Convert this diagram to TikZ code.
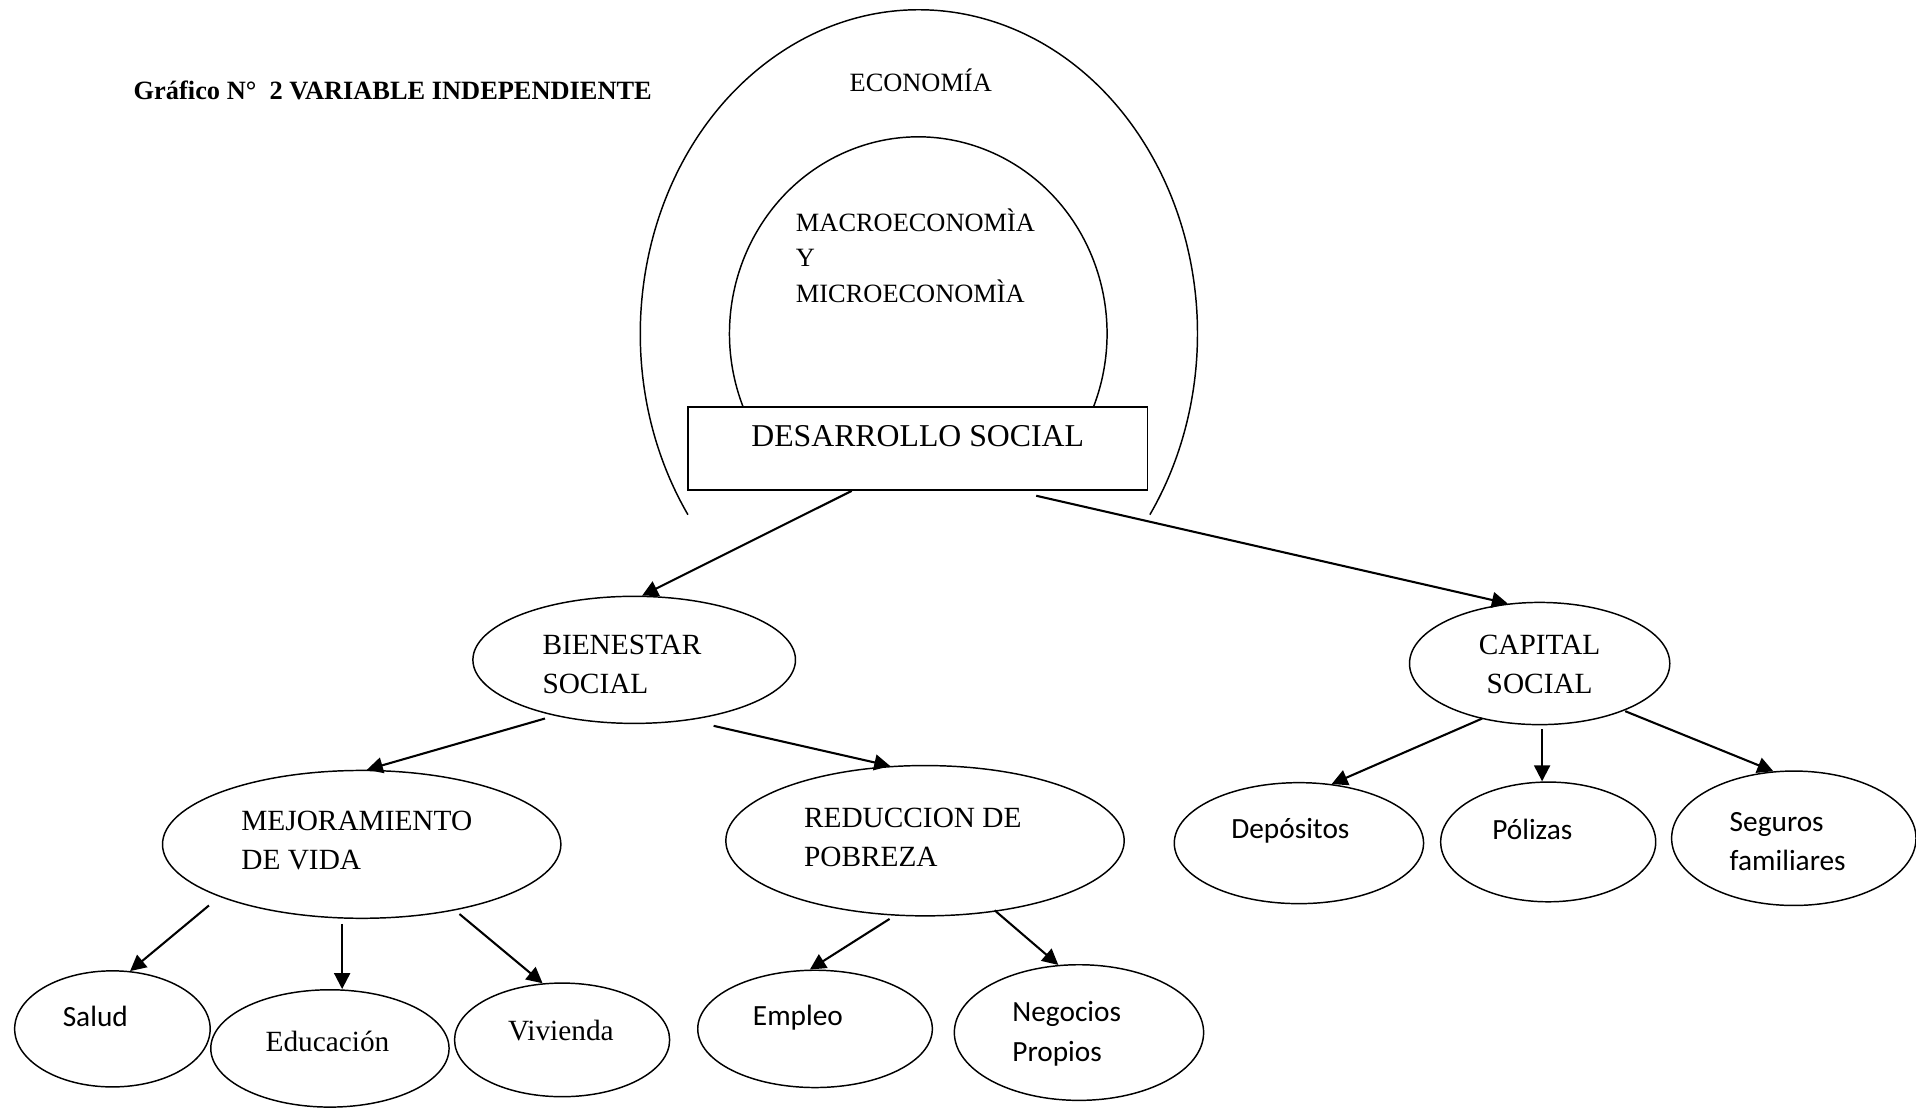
\documentclass[tikz,border=0pt]{standalone}
\usepackage{fontspec}
\setmainfont{Liberation Serif}
\newfontfamily\calibri{Carlito}
\usetikzlibrary{shapes.geometric,arrows.meta,calc}

\tikzset{
  oval/.style={draw, ellipse, inner sep=0pt, line width=0.6pt},
  box/.style={draw, rectangle, inner sep=0pt, line width=0.7pt},
  arr/.style={-{Triangle[length=6.5pt,width=6.5pt]}, line width=0.85pt},
  tx/.style={font=\fontsize{12}{16}\selectfont, align=left, inner sep=0pt},
  cx/.style={font=\calibri\fontsize{12}{16}\selectfont, align=left, inner sep=0pt},
  arcline/.style={line width=0.6pt}
}

\begin{document}
\begin{tikzpicture}[x=0.5pt, y=0.5pt]
\useasboundingbox (0,0) rectangle (1568,-906);

% heading
\node[font=\bfseries\fontsize{10.8}{13}\selectfont, anchor=west, inner sep=0pt] (title) at (109,-73.6) {Gráfico N°\ \ 2 VARIABLE INDEPENDIENTE};

% nested fields
\coordinate (eco) at (752,-273);
\coordinate (mac) at (751.5,-273);
\draw[arcline] ([shift={(214:228 and 265)}]eco) arc[start angle=214, end angle=-34, x radius=228, y radius=265];
\draw[arcline] ([shift={(201.9:154.5 and 161)}]mac) arc[start angle=201.9, end angle=-21.9, x radius=154.5, y radius=161];
\node[font=\fontsize{10.8}{13}\selectfont, inner sep=0pt] (ecot) at (753.5,-66) {ECONOMÍA};
\node[font=\fontsize{10.8}{14.5}\selectfont, align=left, anchor=west, inner sep=0pt] (mact) at (651,-209) {MACROECONOMÌA\\Y\\MICROECONOMÌA};

% central box
\node[box, fill=white, minimum width=188pt, minimum height=34pt,
      label={[font=\fontsize{13}{16}\selectfont, inner sep=0pt, shift={(0,10)}]center:DESARROLLO SOCIAL}] (des) at (751,-367) {};

% second level
\node[oval, minimum width=132pt, minimum height=52pt,
      label={[tx, shift={(-10,-4)}]center:BIENESTAR\\SOCIAL}] (bien) at (519,-540) {};
\node[oval, minimum width=106.5pt, minimum height=50pt,
      label={[tx, align=center, shift={(0,-1)}]center:CAPITAL\\SOCIAL}] (cap) at (1260,-543) {};

% third level
\node[oval, minimum width=163pt, minimum height=60.5pt,
      label={[tx, shift={(-4,3)}]center:MEJORAMIENTO\\DE VIDA}] (mej) at (296,-691) {};
\node[oval, minimum width=163pt, minimum height=61.5pt,
      label={[tx, shift={(-10,3)}]center:REDUCCION DE\\POBREZA}] (red) at (757,-688) {};

\node[oval, minimum width=102pt, minimum height=49.5pt,
      label={[cx, shift={(-7,10)}]center:Depósitos}] (dep) at (1063,-690) {};
\node[oval, minimum width=88pt, minimum height=49pt,
      label={[cx, shift={(-13,10)}]center:Pólizas}] (pol) at (1267,-689) {};
\node[oval, minimum width=100pt, minimum height=55pt,
      label={[cx, shift={(-5,-2.5)}]center:Seguros\\familiares}] (seg) at (1468,-686) {};

% fourth level
\node[oval, minimum width=80pt, minimum height=47.5pt,
      label={[cx, shift={(-14,10)}]center:Salud}] (salud) at (92,-842) {};
\node[oval, minimum width=97.5pt, minimum height=48pt,
      label={[tx, shift={(-2,6)}]center:Educación}] (edu) at (270,-858) {};
\node[oval, minimum width=88pt, minimum height=46.5pt,
      label={[tx, shift={(-1,8)}]center:Vivienda}] (viv) at (460,-851) {};
\node[oval, minimum width=96pt, minimum height=48pt,
      label={[cx, shift={(-14,9)}]center:Empleo}] (emp) at (667,-842) {};
\node[oval, minimum width=102pt, minimum height=55.5pt,
      label={[cx, shift={(-10,-1)}]center:Negocios\\Propios}] (neg) at (883,-845) {};

% connectors
\draw[arr] ($(des.south)+(-54,0)$) -- (bien.83);
\draw[arr] ($(des.south)+(97,-4)$) -- (cap.118);
\draw[arr] ($(bien.center)+(-73,-48)$) -- (mej.86);
\draw[arr] ($(bien.center)+(65,-54)$) -- (red.115);
\draw[arr] ($(mej.center)+(-125,-50)$) -- (salud.73);
\draw[arr] ($(mej.south)+(-16,-4)$) -- ($(edu.north)+(10,0)$);
\draw[arr] ($(mej.center)+(80,-57)$) -- (viv.109);
\draw[arr] ($(red.center)+(-29,-64)$) -- (emp.95);
\draw[arr] ($(red.center)+(57,-57)$) -- (neg.107);
\draw[arr] ($(cap.center)+(-47,-45)$) -- (dep.61);
\draw[arr] ($(cap.south)+(2,-3)$) -- ($(pol.north)+(-5,0)$);
\draw[arr] ($(cap.center)+(70,-39)$) -- (seg.107);
\end{tikzpicture}
\end{document}
